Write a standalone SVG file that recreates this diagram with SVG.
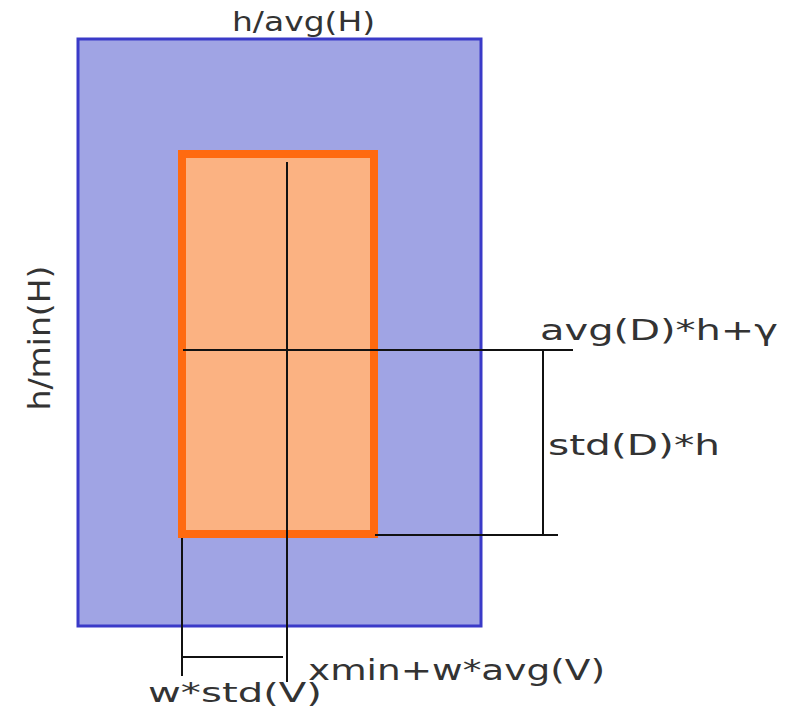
<svg xmlns="http://www.w3.org/2000/svg" width="786" height="710" viewBox="0 0 786 710">
<style>
text{font-family:"DejaVu Sans",Verdana,sans-serif;fill:#333;}
.ln{stroke:#111;stroke-width:2;fill:none;}
</style>
<rect width="786" height="710" fill="#fff"/>
<g id="outer">
<rect x="78" y="39" width="403" height="587" fill="#a0a4e4" stroke="#3a3ac8" stroke-width="3"/>
</g>
<g id="inner">
<rect x="182" y="154" width="192" height="380" fill="#fbb282" stroke="#ff6a10" stroke-width="8"/>
</g>
<g id="connectors">
<line class="ln" x1="287" y1="162" x2="287" y2="682"/>
<line class="ln" x1="183" y1="350" x2="573" y2="350"/>
<line class="ln" x1="543" y1="350" x2="543" y2="535"/>
<line class="ln" x1="375" y1="535" x2="558" y2="535"/>
<line class="ln" x1="182" y1="538" x2="182" y2="676"/>
<line class="ln" x1="183" y1="657" x2="283" y2="657"/>
</g>
<g id="labels">
<text x="232" y="31" font-size="26" textLength="143" lengthAdjust="spacingAndGlyphs">h/avg(H)</text>
<text x="540" y="340" font-size="28" textLength="238" lengthAdjust="spacingAndGlyphs">avg(D)*h+γ</text>
<text x="548" y="455" font-size="28" textLength="172" lengthAdjust="spacingAndGlyphs">std(D)*h</text>
<text x="308" y="680" font-size="28" textLength="297" lengthAdjust="spacingAndGlyphs">xmin+w*avg(V)</text>
<text x="148" y="702" font-size="26" textLength="174" lengthAdjust="spacingAndGlyphs">w*std(V)</text>
<text transform="translate(50,338) rotate(-90)" font-size="30" text-anchor="middle" textLength="145" lengthAdjust="spacingAndGlyphs">h/min(H)</text>
</g>
</svg>
